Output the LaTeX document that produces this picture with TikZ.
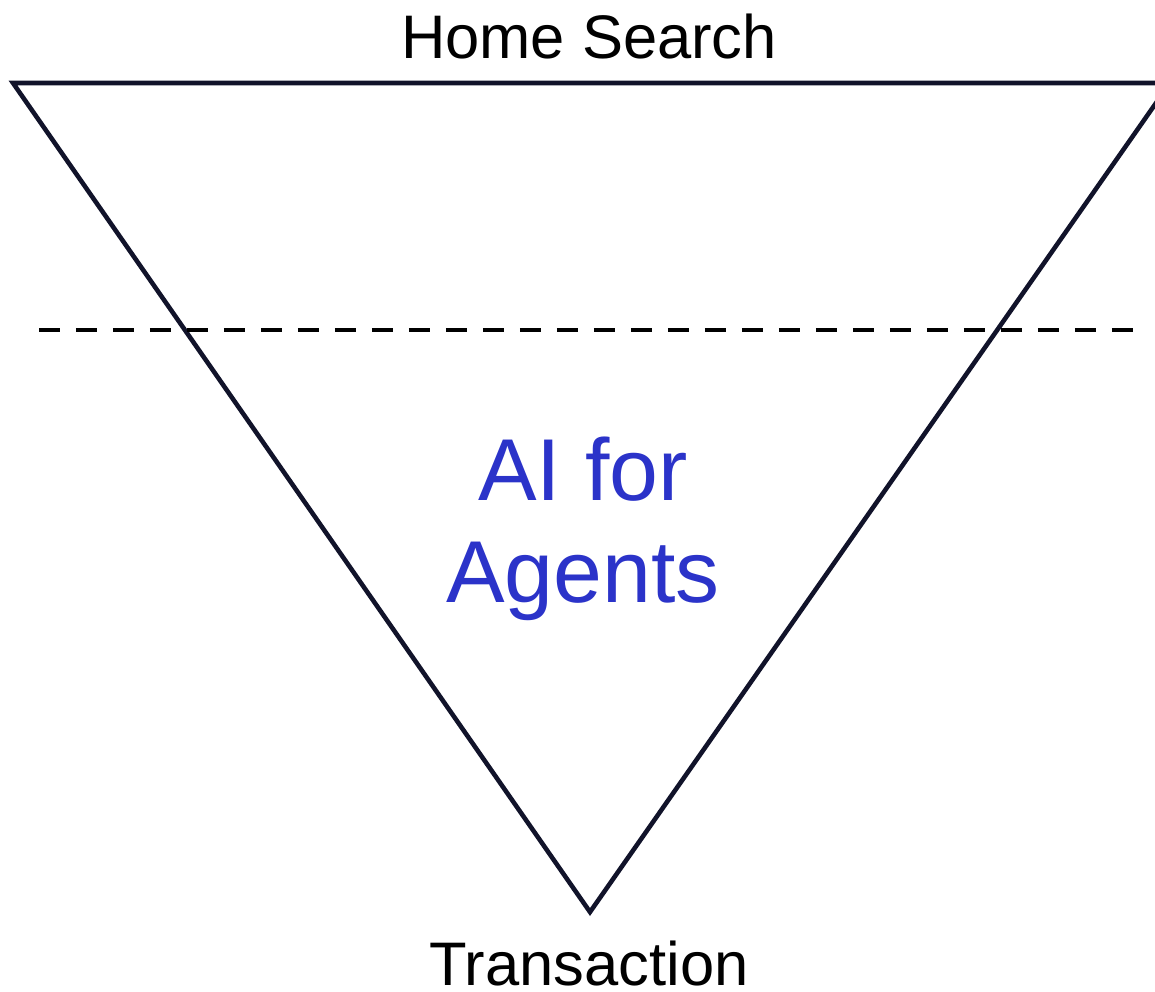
\documentclass[tikz,border=0pt]{standalone}
\usepackage{fontspec}
\setmainfont{Liberation Sans}
\definecolor{funnelnavy}{HTML}{11132A}
\definecolor{agentblue}{HTML}{2B33C9}

\begin{document}
\begin{tikzpicture}[x=0.02cm,y=-0.02cm,
  edge/.style={draw=funnelnavy,line width=2.6pt},
  cut/.style={draw=black,line width=2.6pt,dash pattern=on 0.42cm off 0.32cm},
  stage/.style={font=\fontsize{35}{42}\selectfont,anchor=base,inner sep=0pt,text depth=0pt}]
\useasboundingbox(0,0)rectangle(1155,991);
\coordinate(tl)at(13,83);\coordinate(tr)at(1170,83);\coordinate(bot)at(590,912);
\coordinate(cl)at(39,330);\coordinate(cr)at(1140,330);
\draw[edge](tl)--(tr)--(bot)--cycle;
\draw[cut](cl)--(cr);
\node[stage](top)at(589,58){Home Search};\node[stage](end)at(589,985){Transaction};
\node[text=agentblue,align=center,font=\fontsize{50}{58}\selectfont](ai)at(583,529){AI for\\Agents};
\end{tikzpicture}
\end{document}
